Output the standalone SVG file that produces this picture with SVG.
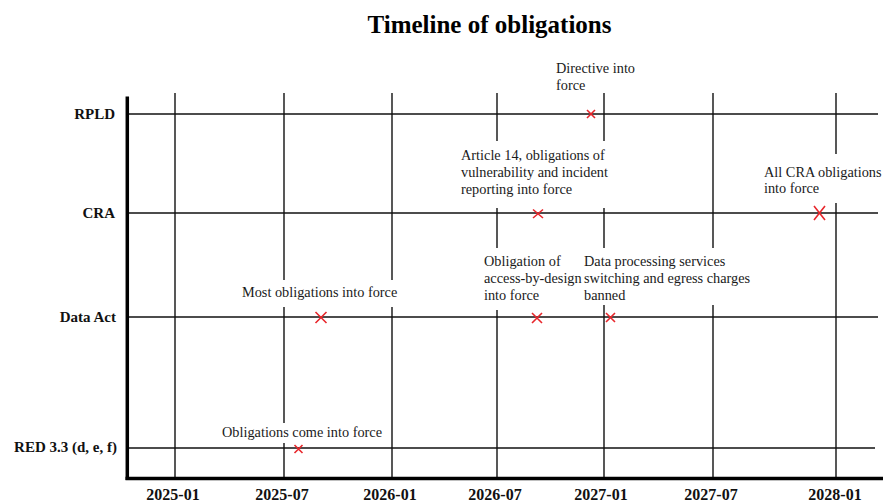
<svg xmlns="http://www.w3.org/2000/svg" width="883" height="504" viewBox="0 0 883 504">
  <style>
    .title { font-family: "Liberation Serif", "Times New Roman", serif; font-weight: bold; font-size: 25px; fill: #000; }
    .ylab { font-family: "Liberation Serif", "Times New Roman", serif; font-weight: bold; font-size: 15px; fill: #111; text-anchor: end; }
    .xlab { font-family: "Liberation Serif", "Times New Roman", serif; font-weight: bold; font-size: 16px; fill: #111; text-anchor: middle; }
    .note { font-family: "Liberation Serif", "Times New Roman", serif; font-size: 14.3px; fill: #1a1a1a; }
    .grid { stroke: #111; stroke-width: 1.4; fill: none; }
    .row { stroke: #111; stroke-width: 1.4; fill: none; }
    .axis { stroke: #000; stroke-width: 3.5; fill: none; }
    .bg { fill: #fff; stroke: none; }
    .mk { stroke: #e8262b; stroke-width: 1.6; fill: none; }
  </style>
  <rect x="0" y="0" width="883" height="504" fill="#fff"/>

  <text class="title" x="489.5" y="32.5" text-anchor="middle">Timeline of obligations</text>

  <g id="connectors">
    <g id="gridlines">
      <line class="grid" x1="175" y1="93" x2="175" y2="478"/>
      <line class="grid" x1="284" y1="93" x2="284" y2="478"/>
      <line class="grid" x1="392" y1="93" x2="392" y2="478"/>
      <line class="grid" x1="497" y1="93" x2="497" y2="478"/>
      <line class="grid" x1="604" y1="93" x2="604" y2="478"/>
      <line class="grid" x1="713" y1="93" x2="713" y2="478"/>
      <line class="grid" x1="836" y1="93" x2="836" y2="478"/>
    </g>
    <g id="label-backgrounds">
      <rect class="bg" x="456" y="141" width="152" height="67"/>
      <rect class="bg" x="759" y="154" width="124" height="49"/>
      <rect class="bg" x="480" y="248" width="100" height="62"/>
      <rect class="bg" x="580" y="248" width="168" height="57"/>
      <rect class="bg" x="238" y="280" width="164" height="27"/>
      <rect class="bg" x="218" y="423" width="170" height="20"/>
    </g>
    <g id="rows">
      <line class="row" x1="127" y1="114" x2="878" y2="114"/>
      <line class="row" x1="127" y1="213" x2="878" y2="213"/>
      <line class="row" x1="127" y1="317" x2="878" y2="317"/>
      <line class="row" x1="127" y1="448" x2="875" y2="448"/>
    </g>
    <g id="axes">
      <line class="axis" x1="127.3" y1="96.5" x2="127.3" y2="480"/>
      <line class="axis" x1="125.5" y1="478.5" x2="883" y2="478.5"/>
    </g>
  </g>

  <g id="y-labels">
    <text class="ylab" x="115" y="119">RPLD</text>
    <text class="ylab" x="115" y="218">CRA</text>
    <text class="ylab" x="116" y="321.5">Data Act</text>
    <text class="ylab" x="117" y="452">RED 3.3 (d, e, f)</text>
  </g>

  <g id="x-labels">
    <text class="xlab" x="173" y="500">2025-01</text>
    <text class="xlab" x="282" y="500">2025-07</text>
    <text class="xlab" x="390" y="500">2026-01</text>
    <text class="xlab" x="495" y="500">2026-07</text>
    <text class="xlab" x="601" y="500">2027-01</text>
    <text class="xlab" x="711" y="500">2027-07</text>
    <text class="xlab" x="835" y="500">2028-01</text>
  </g>

  <g id="rpld-directive">
    <path class="mk" d="M587,110 L595,118 M595,110 L587,118"/>
    <text class="note" x="556" y="73">Directive into</text>
    <text class="note" x="556" y="90">force</text>
  </g>

  <g id="cra-article14">
    <path class="mk" d="M533,209.5 L543,218 M543,209.5 L533,218"/>
    <text class="note" x="461" y="160">Article 14, obligations of</text>
    <text class="note" x="461" y="177">vulnerability and incident</text>
    <text class="note" x="461" y="194">reporting into force</text>
  </g>

  <g id="cra-all">
    <path class="mk" d="M814,206 L825,220 M825,206 L814,220"/>
    <text class="note" x="764" y="176.5">All CRA obligations</text>
    <text class="note" x="764" y="193">into force</text>
  </g>

  <g id="dataact-most">
    <path class="mk" d="M315.5,312 L326.5,323 M326.5,312 L315.5,323"/>
    <text class="note" x="242" y="297">Most obligations into force</text>
  </g>

  <g id="dataact-access">
    <path class="mk" d="M532,313 L542,323 M542,313 L532,323"/>
    <text class="note" x="484" y="266">Obligation of</text>
    <text class="note" x="484" y="283">access-by-design</text>
    <text class="note" x="484" y="300">into force</text>
  </g>

  <g id="dataact-switching">
    <path class="mk" d="M606,313 L615,322 M615,313 L606,322"/>
    <text class="note" x="584" y="266">Data processing services</text>
    <text class="note" x="584" y="283">switching and egress charges</text>
    <text class="note" x="584" y="300">banned</text>
  </g>

  <g id="red-obligations">
    <path class="mk" d="M294.5,445 L302.5,453 M302.5,445 L294.5,453"/>
    <text class="note" x="222" y="437">Obligations come into force</text>
  </g>
</svg>
